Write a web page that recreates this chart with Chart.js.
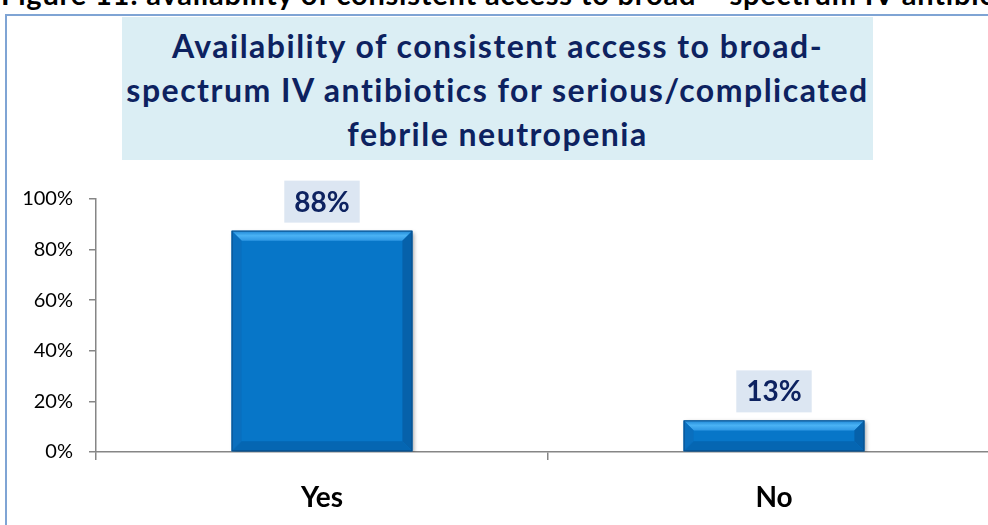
<!DOCTYPE html>
<html>
<head>
<meta charset="utf-8">
<script src="https://cdn.jsdelivr.net/npm/chart.js@4.4.0/dist/chart.umd.min.js"></script>
<style>
  html, body { margin: 0; padding: 0; width: 988px; height: 525px; overflow: hidden; background: #fff; }
  #caption { position: absolute; left: 1px; top: -21px; font: bold 29px Lato, sans-serif; line-height: 30px;
             letter-spacing: 0.8px; white-space: nowrap; color: #000; }
  #frame { position: absolute; left: 5px; top: 14px; width: 1100px; height: 600px;
           border-left: 2px solid #7FA4D4; border-top: 2px solid #7FA4D4; }
  #titleBox { position: absolute; left: 122px; top: 17px; width: 751px; height: 143px; background: #DBEEF4;
              color: #0D2260; font: bold 32px Lato, sans-serif; text-align: center; line-height: 44px;
              letter-spacing: 1.5px; box-sizing: border-box; padding-top: 7px; }
  #wrap { position: absolute; left: 0; top: 0; width: 1010px; height: 525px; }
</style>
</head>
<body>
<div id="caption">Figure 11: availability of consistent access to broad – spectrum IV antibiotics</div>
<div id="frame"></div>
<div id="wrap"><canvas id="report" width="1010" height="525"></canvas></div>
<div id="titleBox">Availability of consistent access to broad-<br>spectrum IV antibiotics for serious/complicated<br>febrile neutropenia</div>
<script>
const categories = ['Yes', 'No'];
const shares = [87.5, 12.5];
const shareLabels = ['88%', '13%'];
const yTicks = [0, 20, 40, 60, 80, 100];

document.addEventListener("DOMContentLoaded", function() {

    // bevel + shadow look of the bars
    const bevelBars = {
        id: 'bevelBars',
        beforeDatasetsDraw(chart) {
            const ctx = chart.ctx;
            ctx.save();
            ctx.shadowColor = 'rgba(0,0,0,0.35)';
            ctx.shadowBlur = 4;
            ctx.shadowOffsetX = 2;
            ctx.shadowOffsetY = 2;
        },
        afterDatasetsDraw(chart) {
            const ctx = chart.ctx;
            ctx.restore();
            chart.getDatasetMeta(0).data.forEach(bar => {
                const l = bar.x - bar.width / 2, r = bar.x + bar.width / 2;
                const t = bar.y, b = bar.base;
                const s = Math.min(10, (b - t) / 2.5);
                const poly = (pts, fill) => {
                    ctx.beginPath();
                    ctx.moveTo(pts[0][0], pts[0][1]);
                    pts.slice(1).forEach(p => ctx.lineTo(p[0], p[1]));
                    ctx.closePath();
                    ctx.fillStyle = fill;
                    ctx.fill();
                };
                const g = ctx.createLinearGradient(0, t, 0, t + s);
                g.addColorStop(0, '#1E86D4');
                g.addColorStop(0.5, '#4AB2F4');
                g.addColorStop(1, '#2F98E4');
                poly([[l, t], [r, t], [r - s, t + s], [l + s, t + s]], g);
                poly([[l, t], [l + s, t + s], [l + s, b - s], [l, b]], '#0A6FBE');
                poly([[r, t], [r - s, t + s], [r - s, b - s], [r, b]], '#0661AA');
                poly([[l, b], [l + s, b - s], [r - s, b - s], [r, b]], '#0566B2');
                ctx.strokeStyle = '#0B4F8A';
                ctx.lineWidth = 1;
                ctx.strokeRect(l + 0.5, t + 0.5, r - l - 1, b - t - 1);
            });
        }
    };

    const valueBoxes = {
        id: 'valueBoxes',
        afterDraw(chart) {
            const ctx = chart.ctx;
            ctx.save();
            ctx.font = 'bold 28px Lato, sans-serif';
            ctx.textAlign = 'center';
            ctx.textBaseline = 'middle';
            chart.getDatasetMeta(0).data.forEach((bar, i) => {
                const txt = shareLabels[i];
                const w = ctx.measureText(txt).width + 20;
                const h = 42;
                const bottom = bar.y - 8;
                ctx.fillStyle = '#DCE6F2';
                ctx.fillRect(bar.x - w / 2, bottom - h, w, h);
                ctx.fillStyle = '#0D2260';
                ctx.fillText(txt, bar.x, bottom - h / 2 + 1);
            });
            ctx.restore();
        }
    };

    const ctx = document.getElementById('report').getContext('2d');
    let myChart = new Chart(ctx, {
        type: 'bar',
        data: {
            labels: categories,
            datasets: [{
                data: shares,
                backgroundColor: '#0776C8',
                borderWidth: 0,
                barPercentage: 0.4,
                categoryPercentage: 1
            }]
        },
        options: {
            responsive: false,
            maintainAspectRatio: false,
            animation: false,
            devicePixelRatio: 1,
            layout: { padding: { top: 199, right: 10, left: 0, bottom: 0 } },
            plugins: { legend: { display: false }, tooltip: { enabled: false } },
            scales: {
                y: {
                    min: 0,
                    max: 100,
                    afterBuildTicks: scale => { scale.ticks = yTicks.map(v => ({ value: v })); },
                    afterFit: scale => { scale.width = 96; },
                    ticks: {
                        callback: v => v + '%',
                        color: '#000',
                        font: { family: 'Lato', size: 20 },
                        padding: 16
                    },
                    grid: { drawOnChartArea: false, tickLength: 7, color: '#868686', lineWidth: 1.5 },
                    border: { color: '#868686', width: 1.5 }
                },
                x: {
                    offset: true,
                    afterFit: scale => { scale.height = 73; },
                    ticks: {
                        color: '#000',
                        font: { family: 'Lato', size: 28, weight: 'bold' },
                        padding: 21
                    },
                    grid: { offset: true, drawOnChartArea: false, tickLength: 8, color: '#868686', lineWidth: 1.5 },
                    border: { color: '#868686', width: 1.5 }
                }
            }
        },
        plugins: [bevelBars, valueBoxes]
    });
});
</script>
</body>
</html>
